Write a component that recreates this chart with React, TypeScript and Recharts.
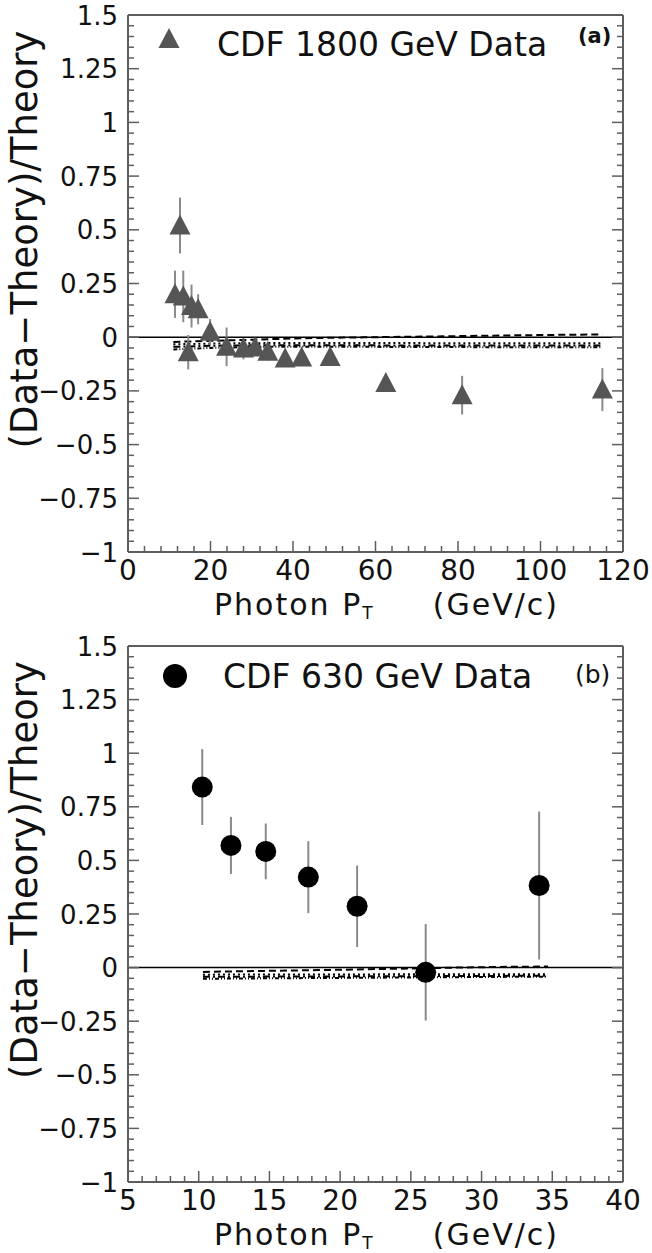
import React from 'react';
import { ComposedChart, Scatter, Line, XAxis, YAxis, ErrorBar, ReferenceLine, Legend } from 'recharts';

// panel (a): CDF 1800 GeV data, relative difference to theory
const ptA = [11.4, 12.6, 13.4, 14.6, 15.4, 17.0, 19.9, 23.9, 28.0, 30.8, 33.9, 38.1, 42.1, 49.0, 62.5, 81.0, 115.0];
const valA = [0.2, 0.52, 0.19, -0.07, 0.145, 0.13, 0.025, -0.045, -0.053, -0.048, -0.068, -0.099, -0.095, -0.092, -0.213, -0.27, -0.244];
const errA = [0.11, 0.13, 0.12, 0.08, 0.1, 0.07, 0.06, 0.09, 0.05, 0.04, 0.04, 0.03, 0.03, 0.03, 0.03, 0.09, 0.1];

// theory variants for (a)
const thPtA = [11, 20, 30, 40, 60, 80, 100, 115];
const thA1 = [-0.022, -0.017, -0.012, -0.006, 0.0, 0.005, 0.01, 0.013];
const thA2 = [-0.033, -0.03, -0.028, -0.027, -0.027, -0.028, -0.028, -0.028];
const thA3 = [-0.045, -0.04, -0.038, -0.037, -0.038, -0.039, -0.039, -0.039];
const thA4 = [-0.057, -0.05, -0.046, -0.044, -0.045, -0.046, -0.047, -0.047];

// panel (b): CDF 630 GeV data
const ptB = [10.25, 12.28, 14.74, 17.75, 21.2, 26.05, 34.07];
const valB = [0.842, 0.57, 0.542, 0.422, 0.286, -0.022, 0.383];
const errB = [0.177, 0.133, 0.13, 0.168, 0.19, 0.225, 0.345];

const thPtB = [10.3, 15, 20, 25, 30, 34.7];
const thB1 = [-0.02, -0.015, -0.01, -0.004, 0.002, 0.005];
const thB2 = [-0.033, -0.032, -0.032, -0.031, -0.031, -0.031];
const thB3 = [-0.043, -0.042, -0.041, -0.04, -0.039, -0.038];
const thB4 = [-0.052, -0.05, -0.048, -0.046, -0.044, -0.042];

const xMajorA = [0, 20, 40, 60, 80, 100, 120];
const xMajorB = [5, 10, 15, 20, 25, 30, 35, 40];
const yMajor = [-1, -0.75, -0.5, -0.25, 0, 0.25, 0.5, 0.75, 1, 1.25, 1.5];

const FONT = '"DejaVu Sans", sans-serif';
const FRAME = '#5e5e5e';
const DASHES = ['7 4', '2 3', '7 3 2 3', '4 2 1 2 1 2'];

function subdivide(majors: number[], n: number) {
  const out: number[] = [];
  for (let i = 0; i < majors.length - 1; i++) {
    const step = (majors[i + 1] - majors[i]) / n;
    for (let k = 0; k < n; k++) out.push(+(majors[i] + k * step).toFixed(4));
  }
  out.push(majors[majors.length - 1]);
  return out;
}

const isMajor = (v: number, majors: number[]) => majors.some(m => Math.abs(m - v) < 1e-6);

function fmt(v: number) {
  const s = String(+v.toFixed(2));
  return v < 0 ? '\u2212' + s.slice(1) : s;
}

const makeTick = (side: string, majors: number[], withLabel: boolean) => (props: any) => {
  const { x, y, payload } = props;
  const v = payload.value;
  const major = isMajor(v, majors);
  const len = major ? 11 : 6;
  let line = null;
  if (side === 'bottom') line = <line x1={x} y1={y} x2={x} y2={y - len} />;
  if (side === 'top') line = <line x1={x} y1={y} x2={x} y2={y + len} />;
  if (side === 'left') line = <line x1={x} y1={y} x2={x + len} y2={y} />;
  if (side === 'right') line = <line x1={x} y1={y} x2={x - len} y2={y} />;
  let label = null;
  if (withLabel && major && side === 'bottom') {
    label = (
      <text x={x} y={y + 28} textAnchor="middle" fontSize={28} fontFamily={FONT} fill="#111" stroke="none">
        {fmt(v)}
      </text>
    );
  }
  if (withLabel && major && side === 'left') {
    label = (
      <text x={x - 10} y={y + 9.5} textAnchor="end" fontSize={26} fontFamily={FONT} fill="#111" stroke="none">
        {fmt(v)}
      </text>
    );
  }
  return (
    <g stroke={FRAME} strokeWidth={1.5}>
      {line}
      {label}
    </g>
  );
};

const toPoints = (xs: number[], ys: number[], es?: number[]) =>
  xs.map((x, i) => (es ? { x, y: ys[i], err: es[i] } : { x, y: ys[i] }));

const Triangle = (props: any) => {
  const { cx, cy } = props;
  if (cx == null || cy == null) return null;
  return <polygon points={`${cx},${cy - 11} ${cx - 10.5},${cy + 9} ${cx + 10.5},${cy + 9}`} fill="#555" />;
};

const Dot = (props: any) => {
  const { cx, cy } = props;
  if (cx == null || cy == null) return null;
  return <circle cx={cx} cy={cy} r={10.5} fill="#000" />;
};

const xTitle = (props: any) => {
  const { viewBox } = props;
  const y = viewBox.y + 63;
  return (
    <g fontSize={30} fontFamily={FONT} fill="#111" letterSpacing={2}>
      <text x={viewBox.x + 86} y={y}>
        Photon P<tspan fontSize={17} dy={4}>T</tspan>
      </text>
      <text x={viewBox.x + 431} y={y} textAnchor="end">
        (GeV/c)
      </text>
    </g>
  );
};

const yTitle = (props: any) => {
  const { viewBox } = props;
  const x = viewBox.x + viewBox.width - 91;
  const y = viewBox.y + viewBox.height / 2 - 44;
  return (
    <text x={x} y={y} transform={`rotate(-90 ${x} ${y})`} textAnchor="middle" fontSize={37} fontFamily={FONT} fill="#111">
      (Data{'\u2212'}Theory)/Theory
    </text>
  );
};

type PanelProps = {
  points: { x: number; y: number; err?: number }[];
  curves: { x: number; y: number }[][];
  xDomain: [number, number];
  xMajor: number[];
  xSub: number;
  name: string;
  marker: 'triangle' | 'circle';
  tag: string;
  height: number;
  margin: { top: number; right: number; bottom: number; left: number };
};

function Panel(p: PanelProps) {
  const xTicks = subdivide(p.xMajor, p.xSub);
  const yTicks = subdivide(yMajor, 5);
  const top = p.margin.top;
  const legend = (props: any) => {
    const entry = (props.payload || []).find((e: any) => e.type !== 'none');
    const tri = p.marker === 'triangle';
    return (
      <svg width={652} height={top + 60} style={{ display: 'block' }}>
        {tri ? (
          <polygon points={`169,${top + 14} 158.5,${top + 34} 179.5,${top + 34}`} fill="#555" />
        ) : (
          <circle cx={175} cy={top + 31} r={12} fill="#000" />
        )}
        <text x={tri ? 217 : 223} y={tri ? top + 42 : top + 43} fontSize={33} fontFamily={FONT} fill="#111">
          {entry ? entry.value : p.name}
        </text>
        <text x={tri ? 578 : 575} y={tri ? top + 29 : top + 38} fontSize={tri ? 21 : 25} fontWeight={tri ? 'bold' : 'normal'} fontFamily={FONT} fill="#111">
          {p.tag}
        </text>
      </svg>
    );
  };
  return (
    <ComposedChart width={652} height={p.height} margin={p.margin}>
      <XAxis
        type="number"
        dataKey="x"
        domain={p.xDomain}
        ticks={xTicks}
        interval={0}
        height={1}
        tickSize={0}
        tickMargin={0}
        tickLine={false}
        axisLine={{ stroke: FRAME, strokeWidth: 2 }}
        tick={makeTick('bottom', p.xMajor, true)}
        allowDataOverflow
        label={{ content: xTitle }}
      />
      <XAxis
        xAxisId="top"
        orientation="top"
        type="number"
        domain={p.xDomain}
        ticks={xTicks}
        interval={0}
        height={1}
        tickSize={0}
        tickMargin={0}
        tickLine={false}
        axisLine={{ stroke: FRAME, strokeWidth: 2 }}
        tick={makeTick('top', p.xMajor, false)}
        allowDataOverflow
      />
      <YAxis
        type="number"
        dataKey="y"
        domain={[-1, 1.5]}
        ticks={yTicks}
        interval={0}
        width={1}
        tickSize={0}
        tickMargin={0}
        tickLine={false}
        axisLine={{ stroke: FRAME, strokeWidth: 2 }}
        tick={makeTick('left', yMajor, true)}
        allowDataOverflow
        label={{ content: yTitle }}
      />
      <YAxis
        yAxisId="right"
        orientation="right"
        type="number"
        domain={[-1, 1.5]}
        ticks={yTicks}
        interval={0}
        width={1}
        tickSize={0}
        tickMargin={0}
        tickLine={false}
        axisLine={{ stroke: FRAME, strokeWidth: 2 }}
        tick={makeTick('right', yMajor, false)}
        allowDataOverflow
      />
      <ReferenceLine y={0} stroke="#000" strokeWidth={1.5} />
      {p.curves.map((c, i) => (
        <Line
          key={i}
          data={c}
          dataKey="y"
          type="monotone"
          dot={false}
          stroke="#000"
          strokeWidth={2}
          strokeDasharray={DASHES[i]}
          legendType="none"
          isAnimationActive={false}
        />
      ))}
      <Scatter
        name={p.name}
        data={p.points}
        dataKey="y"
        shape={p.marker === 'triangle' ? Triangle : Dot}
        isAnimationActive={false}
      >
        <ErrorBar dataKey="err" direction="y" width={0} stroke="#8a8a8a" strokeWidth={2} />
      </Scatter>
      <Legend
        layout="horizontal"
        verticalAlign="middle"
        align="center"
        content={legend}
        wrapperStyle={{ left: 0, top: 0, width: 652, height: top + 60 }}
      />
    </ComposedChart>
  );
}

export default function App() {
  return (
    <div style={{ position: 'absolute', left: 0, top: 0, width: 652, height: 1253, background: '#fff' }}>
      <div style={{ position: 'absolute', left: 0, top: 0 }}>
        <Panel
          points={toPoints(ptA, valA, errA)}
          curves={[thA1, thA2, thA3, thA4].map(c => toPoints(thPtA, c) as { x: number; y: number }[])}
          xDomain={[0, 120]}
          xMajor={xMajorA}
          xSub={5}
          name="CDF 1800 GeV Data"
          marker="triangle"
          tag="(a)"
          height={630}
          margin={{ top: 14, right: 28, bottom: 77, left: 127 }}
        />
      </div>
      <div style={{ position: 'absolute', left: 0, top: 630 }}>
        <Panel
          points={toPoints(ptB, valB, errB)}
          curves={[thB1, thB2, thB3, thB4].map(c => toPoints(thPtB, c) as { x: number; y: number }[])}
          xDomain={[5, 40]}
          xMajor={xMajorB}
          xSub={5}
          name="CDF 630 GeV Data"
          marker="circle"
          tag="(b)"
          height={623}
          margin={{ top: 15, right: 28, bottom: 70, left: 127 }}
        />
      </div>
    </div>
  );
}
